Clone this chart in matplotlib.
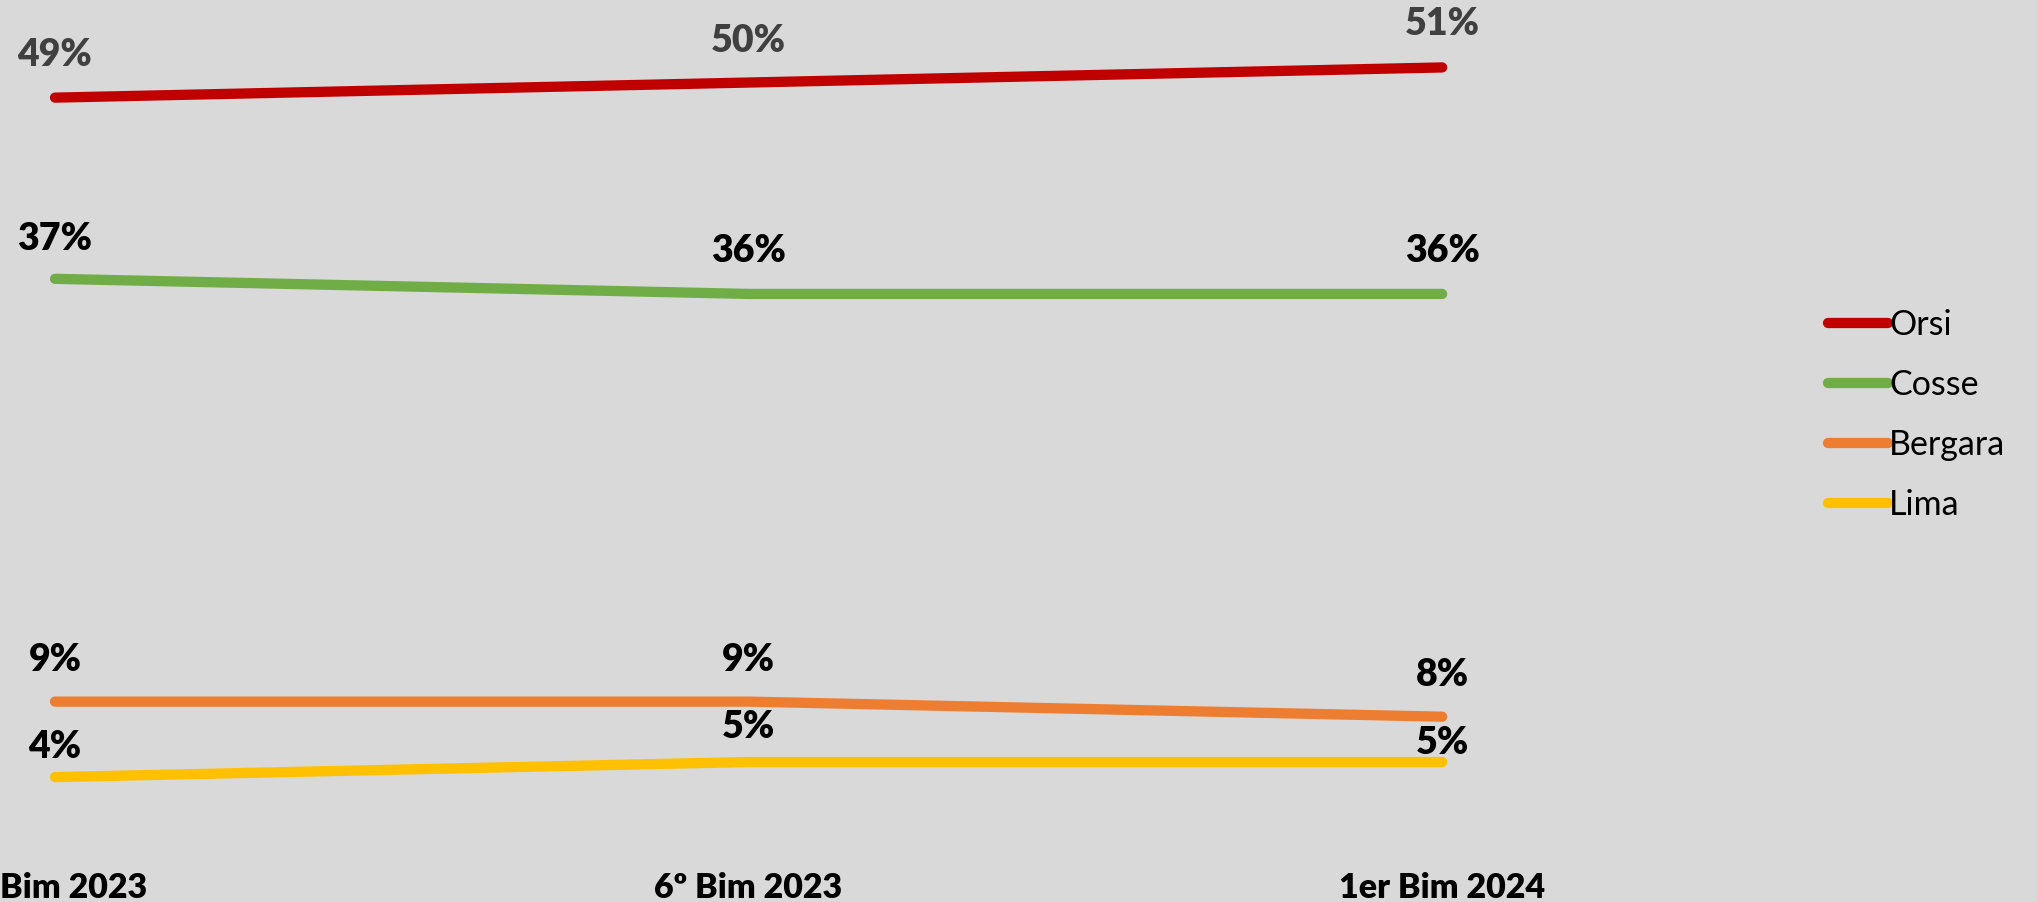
import matplotlib.pyplot as plt
from matplotlib.lines import Line2D
from matplotlib.transforms import ScaledTranslation

plt.rcParams.update(
    {
        "font.family": ["Lato", "DejaVu Sans"],
        "figure.facecolor": "#D9D9D9",
    }
)

# --- Data ---
periods = ["Bim 2023", "6º Bim 2023", "1er Bim 2024"]
names = ["Orsi", "Cosse", "Bergara", "Lima"]
orsi = [49, 50, 51]
cosse = [37, 36, 36]
bergara = [9, 9, 8]
lima = [4, 5, 5]

series = [orsi, cosse, bergara, lima]
colors = ["#C00000", "#70AD47", "#ED7D31", "#FFC000"]
label_colors = ["#404040", "black", "black", "black"]
# label offsets above the points (points)
offsets = [[31, 30, 31], [29, 31, 31], [30, 30, 30], [22, 25, 14]]

fig = plt.figure(figsize=(20.37, 9.02), dpi=100)
ax = fig.add_axes([0.027, 0.0715, 0.681, 0.9207])
ax.set_facecolor("#D9D9D9")

x = list(range(len(periods)))
for vals, name, c, lc, offs in zip(series, names, colors, label_colors, offsets):
    ax.plot(x, vals, color=c, linewidth=7.4, solid_capstyle="round",
            clip_on=False, label=name)
    for xi, v, o in zip(x, vals, offs):
        ax.annotate(f"{v}%", (xi, v), xytext=(0, o), textcoords="offset points",
                    ha="center", va="center", fontsize=27, fontweight="heavy",
                    color=lc, annotation_clip=False)

ax.set_xlim(0, 2)
ax.set_ylim(0, 55)
ax.set_xticks(x)
ax.set_xticklabels(periods, fontsize=24.5, fontweight="heavy")
ax.tick_params(axis="x", length=0, pad=25)
ax.set_yticks([])
for s in ax.spines.values():
    s.set_visible(False)

# first label is cut at the left edge in the original; keep its visible part
t0 = ax.xaxis.get_major_ticks()[0].label1
t0.set_ha("left")
t0.set_transform(t0.get_transform() + ScaledTranslation(-0.545, 0, fig.dpi_scale_trans))

handles = [Line2D([], [], color=c, linewidth=7.4, solid_capstyle="round")
           for c in colors]
fig.legend(handles, names, loc="center left", bbox_to_anchor=(0.8974, 0.54),
           frameon=False, fontsize=24.5, handlelength=1.75, handletextpad=0.05,
           labelspacing=0.82, borderpad=0, borderaxespad=0)

plt.savefig("out.png", dpi=100, facecolor=fig.get_facecolor())
